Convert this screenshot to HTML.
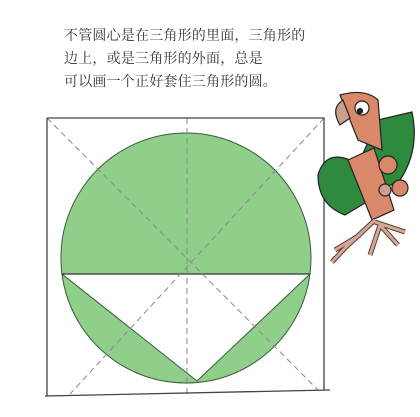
<!DOCTYPE html>
<html><head><meta charset="utf-8"><style>
html,body{margin:0;padding:0;background:#fff;width:420px;height:417px;overflow:hidden}
.t{position:absolute;left:64px;font:14px "Liberation Serif","Noto Serif CJK SC","Noto Sans CJK SC",serif;color:#333;letter-spacing:0.2px;white-space:nowrap}
</style></head><body>
<div class="t" style="top:25px">不管圆心是在三角形的里面，三角形的</div>
<div class="t" style="top:48px">边上，或是三角形的外面，总是</div>
<div class="t" style="top:71px">可以画一个正好套住三角形的圆。</div>
<svg width="420" height="417" style="position:absolute;left:0;top:0">
<path fill-rule="evenodd" fill="#8fcf8a" stroke="#3a5a3a" stroke-width="1" d="M186,133 A125,125 0 1 1 185.9,133 Z M62,274 L197,381 L310,274 Z"/>
<line x1="62" y1="274" x2="310" y2="274" stroke="#333" stroke-width="1.2"/>
<g stroke="#888" stroke-width="1" stroke-dasharray="6,4" fill="none">
<line x1="47" y1="118" x2="318" y2="390"/>
<line x1="324" y1="118" x2="70" y2="394"/>
<line x1="187" y1="118" x2="187" y2="395"/>
</g>
<path d="M47,118 L324,118 L324,390 M47,118 L47,396 M45,396 L330,390" stroke="#444" stroke-width="1.3" fill="none"/>
<g stroke="#222" stroke-width="1.2">
<path d="M318,175 Q325,150 350,160 L370,200 L345,215 Q318,205 318,175 Z" fill="#2e8a3c"/>
<path d="M378,120 L412,112 Q420,150 400,180 L372,195 L360,160 Z" fill="#2e8a3c"/>
<path d="M340,95 Q365,88 378,100 L382,150 L358,140 Z" fill="#d9886a"/>
<path d="M343,100 Q330,108 340,125 L350,118 Z" fill="#c9a090"/>
<circle cx="362" cy="108" r="7" fill="#fff"/><circle cx="360" cy="111" r="2.5" fill="#222"/>
<path d="M348,160 L374,148 L394,210 L372,220 Z" fill="#d9886a"/>
<circle cx="388" cy="165" r="9" fill="#d9886a"/><circle cx="400" cy="188" r="8" fill="#d9886a"/>
<circle cx="385" cy="190" r="6" fill="#c9a090"/>
<path d="M375,220 L345,248 L332,262 M360,235 L335,250 M375,222 L405,232 M380,225 L398,245 M380,225 L370,255" stroke="#5a3a30" stroke-width="5" fill="none"/>
<path d="M375,220 L345,248 L332,262 M360,235 L335,250 M375,222 L405,232 M380,225 L398,245 M380,225 L370,255" stroke="#d4a898" stroke-width="3" fill="none"/>
</g>
</svg>
</body></html>
